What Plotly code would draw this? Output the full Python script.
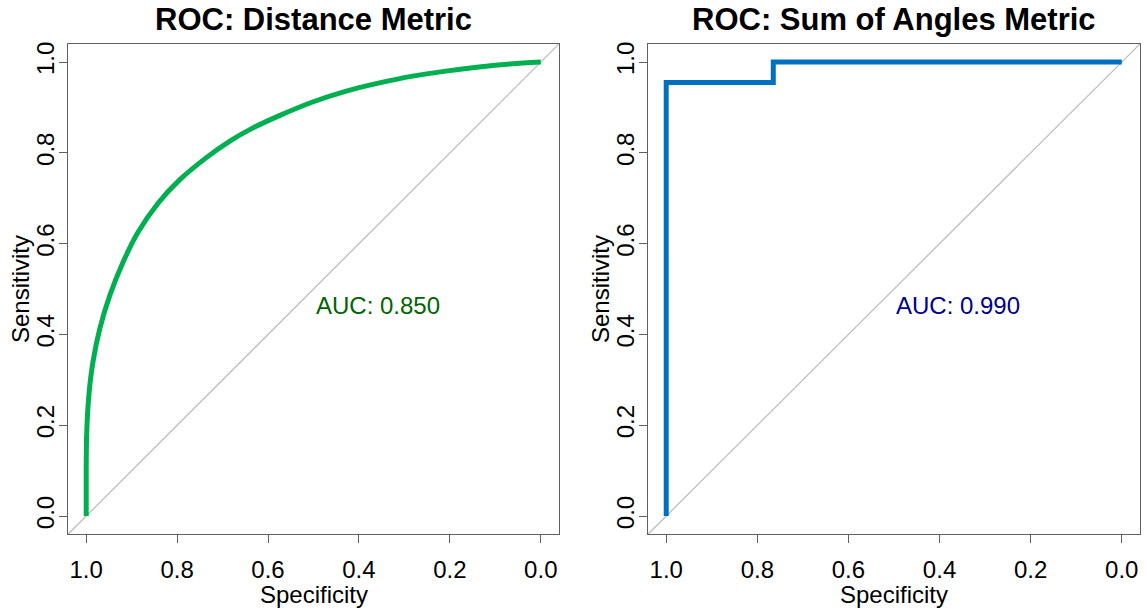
import plotly.graph_objects as go

# ---- data ----
dist_spec = [1.0, 1.0, 0.999, 0.994, 0.985, 0.97, 0.948, 0.919, 0.886, 0.842, 0.794,
             0.735, 0.684, 0.633, 0.575, 0.502, 0.428, 0.355, 0.282, 0.209, 0.136, 0.063, 0.0]
dist_sens = [0.0, 0.106, 0.179, 0.267, 0.34, 0.413, 0.486, 0.559, 0.625, 0.689, 0.741,
             0.790, 0.826, 0.855, 0.882, 0.912, 0.936, 0.954, 0.969, 0.98, 0.989, 0.996, 1.0]
ang_spec = [1.0, 1.0, 0.765, 0.765, 0.0]
ang_sens = [0.0, 0.955, 0.955, 1.0, 1.0]
titles = ["ROC: Distance Metric", "ROC: Sum of Angles Metric"]
auc_labels = ["AUC: 0.850", "AUC: 0.990"]
tick_vals = [0.0, 0.2, 0.4, 0.6, 0.8, 1.0]
tick_text = ["0.0", "0.2", "0.4", "0.6", "0.8", "1.0"]

W, H = 1147, 611
FONT = "Liberation Sans, Arial, sans-serif"
ext = 0.04
rng_lo, rng_hi = -ext, 1 + ext

# panel boxes in pixels
boxes = [(68, 559), (648, 1140)]
box_top, box_bot = 42, 534

fig = go.Figure()

curves = [(dist_spec, dist_sens, "#00B050", "#006400", "spline"),
          (ang_spec, ang_sens, "#0070C0", "#00008B", "linear")]

for i, ((x0, x1), (sx, sy, col, tcol, shp)) in enumerate(zip(boxes, curves)):
    xa = "x" if i == 0 else "x2"
    ya = "y" if i == 0 else "y2"
    # diagonal reference line across the whole box
    fig.add_trace(go.Scatter(x=[rng_hi, rng_lo], y=[rng_lo, rng_hi], mode="lines",
                             line=dict(color="#BEBEBE", width=1.3), xaxis=xa, yaxis=ya,
                             showlegend=False, hoverinfo="skip"))
    line = dict(color=col, width=5, shape=shp)
    if shp == "spline":
        line["smoothing"] = 0.7
    fig.add_trace(go.Scatter(x=sx, y=sy, mode="lines", line=line,
                             xaxis=xa, yaxis=ya, showlegend=False))
    fig.add_annotation(x=0.5, y=0.5, xref=xa, yref=ya, text=auc_labels[i],
                       showarrow=False, xanchor="left", yanchor="top", yshift=-1,
                       font=dict(family=FONT, size=24, color=tcol))
    cx = (x0 + x1) / 2 / W
    fig.add_annotation(x=cx, y=1 - 18 / H, xref="paper", yref="paper", text="<b>" + titles[i] + "</b>",
                       showarrow=False, xanchor="center", yanchor="middle",
                       font=dict(family=FONT, size=31, color="black"))
    fig.add_annotation(x=cx, y=1 - 594 / H, xref="paper", yref="paper", text="Specificity",
                       showarrow=False, xanchor="center", yanchor="middle",
                       font=dict(family=FONT, size=24, color="black"))
    fig.add_annotation(x=(x0 - 48) / W, y=1 - ((box_top + box_bot) / 2) / H, xref="paper", yref="paper",
                       text="Sensitivity", textangle=-90,
                       showarrow=False, xanchor="center", yanchor="middle",
                       font=dict(family=FONT, size=24, color="black"))

axis_common = dict(showline=True, linecolor="#606060", linewidth=1, mirror=True,
                   ticks="outside", ticklen=8, tickcolor="#606060", tickwidth=1,
                   showgrid=False, zeroline=False, tickvals=tick_vals, ticktext=tick_text,
                   tickfont=dict(family=FONT, size=24, color="black"), fixedrange=True)

ydom = [1 - box_bot / H, 1 - box_top / H]
fig.update_layout(
    width=W, height=H, margin=dict(l=0, r=0, t=0, b=0),
    plot_bgcolor="white", paper_bgcolor="white",
    xaxis=dict(domain=[boxes[0][0] / W, boxes[0][1] / W], range=[rng_hi, rng_lo], anchor="y",
               ticklabelstandoff=6, **axis_common),
    yaxis=dict(domain=ydom, range=[rng_lo, rng_hi], anchor="x", tickangle=-90,
               ticklabelstandoff=-5, **axis_common),
    xaxis2=dict(domain=[boxes[1][0] / W, boxes[1][1] / W], range=[rng_hi, rng_lo], anchor="y2",
                ticklabelstandoff=6, **axis_common),
    yaxis2=dict(domain=ydom, range=[rng_lo, rng_hi], anchor="x2", tickangle=-90,
                ticklabelstandoff=-5, **axis_common),
    showlegend=False,
)

fig.write_html("out.html")
